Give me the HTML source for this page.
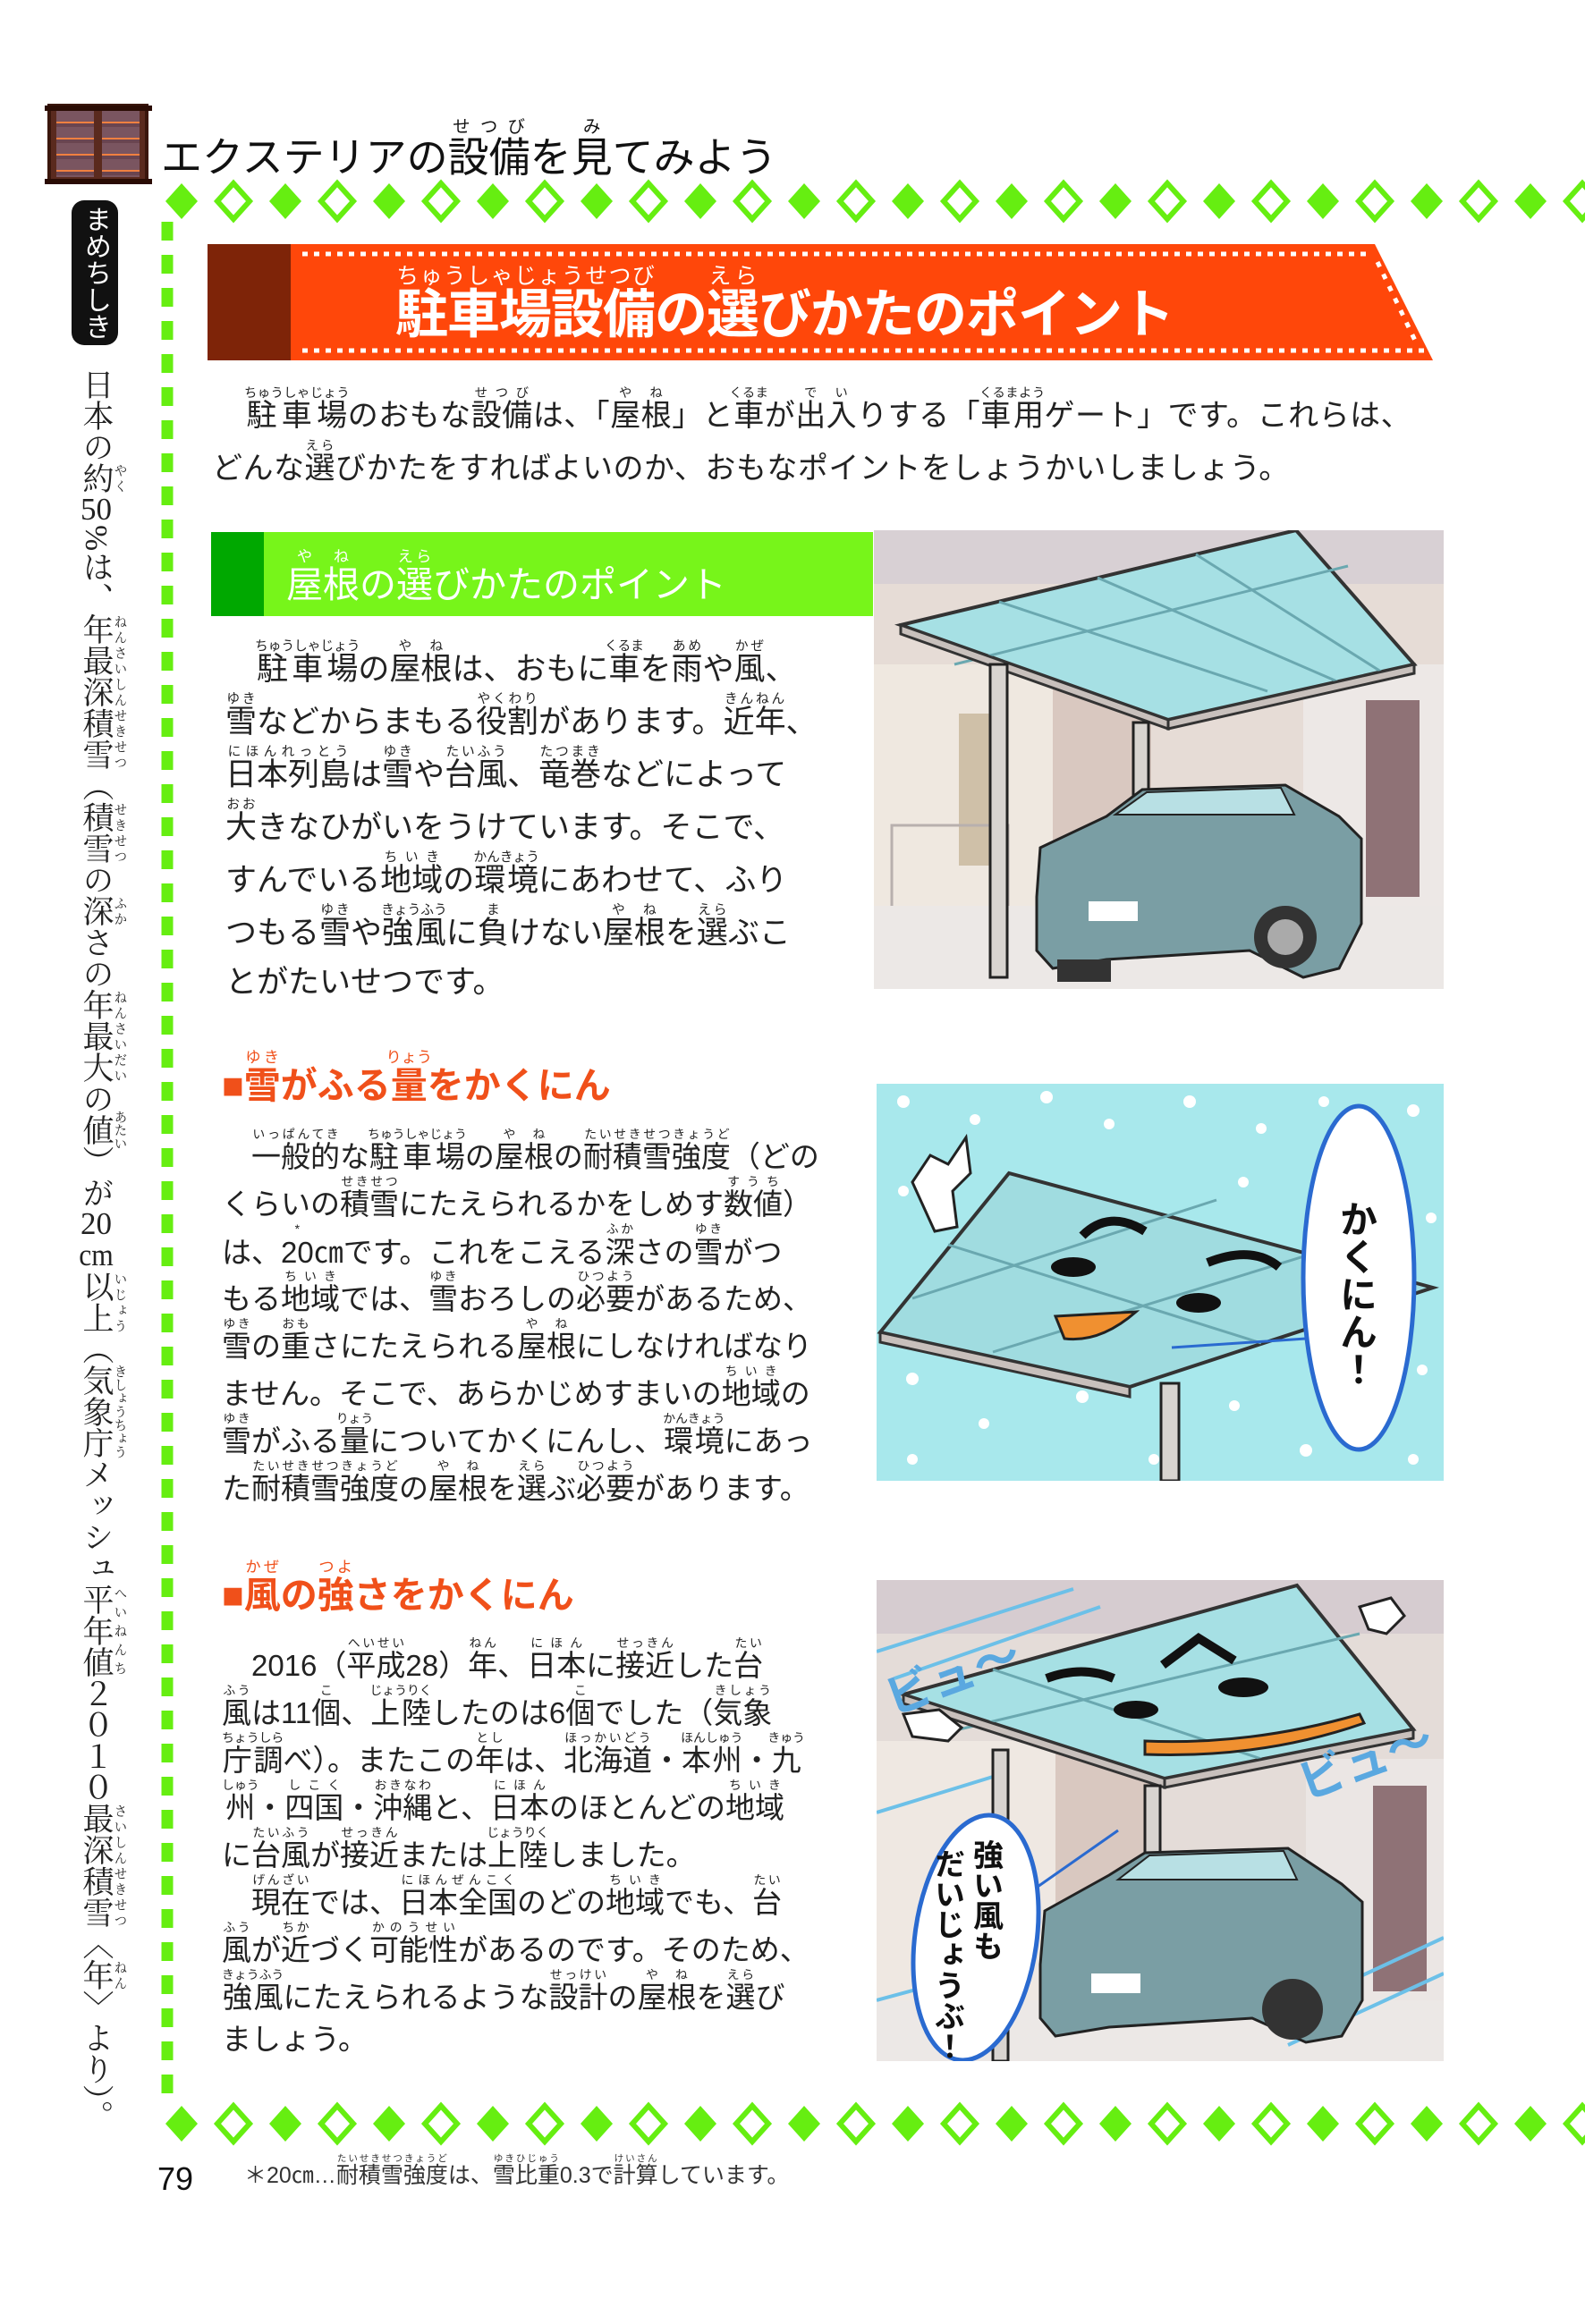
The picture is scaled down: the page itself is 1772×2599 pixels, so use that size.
<!DOCTYPE html>
<html><head><meta charset="utf-8">
<style>
*{margin:0;padding:0;box-sizing:border-box}
body{width:1772px;height:2599px;background:#fff;position:relative;overflow:hidden;font-family:"Liberation Sans","Noto Sans CJK JP",sans-serif;color:#222}
.a{position:absolute;white-space:nowrap}
rt{font-size:0.42em;font-weight:normal}
ruby{ruby-position:over}
.p{font-size:34px;letter-spacing:0.5px}
.h{color:#f0501a;font-size:41px;font-weight:bold}
.l1{position:absolute;left:252px;font-size:35px;line-height:60px;white-space:nowrap}
.l2{position:absolute;left:248px;font-size:33px;line-height:56px;white-space:nowrap}
</style></head><body>

<!-- header icon -->
<div class="a" style="left:53px;top:116px;width:113px;height:90px;background:#5a2a1e;border:4px solid #3a160c"></div>
<div class="a" style="left:63px;top:124px;width:42px;height:74px;background:repeating-linear-gradient(#7a5560 0 12px,#f08040 12px 14px,#6a4550 14px 18px)"></div>
<div class="a" style="left:114px;top:124px;width:42px;height:74px;background:repeating-linear-gradient(#7a5560 0 12px,#f08040 12px 14px,#6a4550 14px 18px)"></div>
<div class="a" style="left:50px;top:118px;width:120px;height:6px;background:#2a0c04"></div>
<div class="a" style="left:50px;top:200px;width:120px;height:6px;background:#2a0c04"></div>

<div class="a" style="left:180px;top:132px;font-size:46px;line-height:70px;color:#111">エクステリアの<ruby>設備<rt>せつび</rt></ruby>を<ruby>見<rt>み</rt></ruby>てみよう</div>

<!-- diamonds -->
<svg class="a" style="left:0;top:0" width="1772" height="2599">
<defs>
<g id="df"><polygon points="0,-20 18,0 0,20 -18,0" fill="#66ee11"/></g>
<g id="do"><polygon points="0,-20 18,0 0,20 -18,0" fill="#fff" stroke="#66ee11" stroke-width="6"/></g>
<g id="row">
<use href="#df" x="203"/><use href="#do" x="261"/><use href="#df" x="319"/><use href="#do" x="377"/><use href="#df" x="435"/><use href="#do" x="493"/><use href="#df" x="551"/><use href="#do" x="609"/><use href="#df" x="667"/><use href="#do" x="725"/><use href="#df" x="783"/><use href="#do" x="841"/><use href="#df" x="899"/><use href="#do" x="957"/><use href="#df" x="1015"/><use href="#do" x="1073"/><use href="#df" x="1131"/><use href="#do" x="1189"/><use href="#df" x="1247"/><use href="#do" x="1305"/><use href="#df" x="1363"/><use href="#do" x="1421"/><use href="#df" x="1479"/><use href="#do" x="1537"/><use href="#df" x="1595"/><use href="#do" x="1653"/><use href="#df" x="1711"/><use href="#do" x="1769"/>
</g>
</defs>
<use href="#row" y="225"/>
<use href="#row" y="2375"/>
<line x1="187" y1="248" x2="187" y2="2352" stroke="#66ee11" stroke-width="13" stroke-dasharray="21 16"/>
</svg>

<!-- side column -->
<div class="a" style="left:80px;top:224px;width:52px;height:162px;background:#111;border-radius:14px"></div>
<div class="a" style="left:80px;top:230px;width:52px;writing-mode:vertical-rl;font-size:30px;color:#fff;line-height:52px;text-align:center">まめちしき</div>
<div class="a" style="left:84px;top:412px;writing-mode:vertical-rl;font-size:35px;line-height:46px;color:#222;font-family:'Liberation Serif','Noto Serif CJK SC',serif">日本の<ruby>約<rt>やく</rt></ruby><span style="text-combine-upright:all">50</span>%は、<ruby>年最深積雪<rt>ねんさいしんせきせつ</rt></ruby>（<ruby>積雪<rt>せきせつ</rt></ruby>の<ruby>深<rt>ふか</rt></ruby>さの<ruby>年最大<rt>ねんさいだい</rt></ruby>の<ruby>値<rt>あたい</rt></ruby>）が<span style="text-combine-upright:all">20</span><span style="text-combine-upright:all">cm</span><ruby>以上<rt>いじょう</rt></ruby>（<ruby>気象庁<rt>きしょうちょう</rt></ruby>メッシュ<ruby>平年値<rt>へいねんち</rt></ruby>２０１０<ruby>最深積雪<rt>さいしんせきせつ</rt></ruby>〈<ruby>年<rt>ねん</rt></ruby>〉より）。</div>

<!-- orange banner -->
<svg class="a" style="left:232px;top:273px" width="1372" height="132">
<polygon points="0,0 1305,0 1370,130 0,130" fill="#ff470a"/>
<rect x="0" y="0" width="93" height="130" fill="#7e2408"/>
<line x1="106" y1="11" x2="1300" y2="11" stroke="#fff" stroke-width="5" stroke-dasharray="6 7"/>
<line x1="106" y1="119" x2="1360" y2="119" stroke="#fff" stroke-width="5" stroke-dasharray="6 7"/>
<line x1="1308" y1="20" x2="1352" y2="112" stroke="#fff" stroke-width="5" stroke-dasharray="6 9"/>
</svg>
<div class="a" style="left:442px;top:296px;font-size:59px;line-height:92px;font-weight:bold;color:#fff;letter-spacing:-1px"><ruby>駐車場設備<rt>ちゅうしゃじょうせつび</rt></ruby>の<ruby>選<rt>えら</rt></ruby>びかたのポイント</div>

<!-- intro -->
<div class="a p" style="left:273px;top:432px;line-height:60px"><ruby>駐車場<rt>ちゅうしゃじょう</rt></ruby>のおもな<ruby>設備<rt>せつび</rt></ruby>は、「<ruby>屋根<rt>やね</rt></ruby>」と<ruby>車<rt>くるま</rt></ruby>が<ruby>出入<rt>でい</rt></ruby>りする「<ruby>車用<rt>くるまよう</rt></ruby>ゲート」です。これらは、</div>
<div class="a p" style="left:237px;top:491px;line-height:60px">どんな<ruby>選<rt>えら</rt></ruby>びかたをすればよいのか、おもなポイントをしょうかいしましょう。</div>

<!-- green header -->
<div class="a" style="left:236px;top:595px;width:740px;height:94px;background:#77f51a"></div>
<div class="a" style="left:236px;top:595px;width:59px;height:94px;background:#00a800"></div>
<div class="a" style="left:320px;top:612px;font-size:41px;line-height:70px;color:#fff"><ruby>屋根<rt>やね</rt></ruby>の<ruby>選<rt>えら</rt></ruby>びかたのポイント</div>

<!-- paragraph 1 -->
<div class="l1" style="top:715px">　<ruby>駐車場<rt>ちゅうしゃじょう</rt></ruby>の<ruby>屋根<rt>やね</rt></ruby>は、おもに<ruby>車<rt>くるま</rt></ruby>を<ruby>雨<rt>あめ</rt></ruby>や<ruby>風<rt>かぜ</rt></ruby>、</div>
<div class="l1" style="top:774px"><ruby>雪<rt>ゆき</rt></ruby>などからまもる<ruby>役割<rt>やくわり</rt></ruby>があります。<ruby>近年<rt>きんねん</rt></ruby>、</div>
<div class="l1" style="top:833px"><ruby>日本列島<rt>にほんれっとう</rt></ruby>は<ruby>雪<rt>ゆき</rt></ruby>や<ruby>台風<rt>たいふう</rt></ruby>、<ruby>竜巻<rt>たつまき</rt></ruby>などによって</div>
<div class="l1" style="top:892px"><ruby>大<rt>おお</rt></ruby>きなひがいをうけています。そこで、</div>
<div class="l1" style="top:951px">すんでいる<ruby>地域<rt>ちいき</rt></ruby>の<ruby>環境<rt>かんきょう</rt></ruby>にあわせて、ふり</div>
<div class="l1" style="top:1010px">つもる<ruby>雪<rt>ゆき</rt></ruby>や<ruby>強風<rt>きょうふう</rt></ruby>に<ruby>負<rt>ま</rt></ruby>けない<ruby>屋根<rt>やね</rt></ruby>を<ruby>選<rt>えら</rt></ruby>ぶこ</div>
<div class="l1" style="top:1069px">とがたいせつです。</div>

<!-- heading 2 -->
<div class="a h" style="left:248px;top:1172px;line-height:70px">■<ruby>雪<rt>ゆき</rt></ruby>がふる<ruby>量<rt>りょう</rt></ruby>をかくにん</div>
<div class="l2" style="top:1260px">　<ruby>一般的<rt>いっぱんてき</rt></ruby>な<ruby>駐車場<rt>ちゅうしゃじょう</rt></ruby>の<ruby>屋根<rt>やね</rt></ruby>の<ruby>耐積雪強度<rt>たいせきせつきょうど</rt></ruby>（どの</div>
<div class="l2" style="top:1313px">くらいの<ruby>積雪<rt>せきせつ</rt></ruby>にたえられるかをしめす<ruby>数値<rt>すうち</rt></ruby>）</div>
<div class="l2" style="top:1366px">は、<ruby>20<rt>*</rt></ruby>㎝です。これをこえる<ruby>深<rt>ふか</rt></ruby>さの<ruby>雪<rt>ゆき</rt></ruby>がつ</div>
<div class="l2" style="top:1419px">もる<ruby>地域<rt>ちいき</rt></ruby>では、<ruby>雪<rt>ゆき</rt></ruby>おろしの<ruby>必要<rt>ひつよう</rt></ruby>があるため、</div>
<div class="l2" style="top:1472px"><ruby>雪<rt>ゆき</rt></ruby>の<ruby>重<rt>おも</rt></ruby>さにたえられる<ruby>屋根<rt>やね</rt></ruby>にしなければなり</div>
<div class="l2" style="top:1525px">ません。そこで、あらかじめすまいの<ruby>地域<rt>ちいき</rt></ruby>の</div>
<div class="l2" style="top:1578px"><ruby>雪<rt>ゆき</rt></ruby>がふる<ruby>量<rt>りょう</rt></ruby>についてかくにんし、<ruby>環境<rt>かんきょう</rt></ruby>にあっ</div>
<div class="l2" style="top:1631px">た<ruby>耐積雪強度<rt>たいせきせつきょうど</rt></ruby>の<ruby>屋根<rt>やね</rt></ruby>を<ruby>選<rt>えら</rt></ruby>ぶ<ruby>必要<rt>ひつよう</rt></ruby>があります。</div>

<!-- heading 3 -->
<div class="a h" style="left:248px;top:1742px;line-height:70px">■<ruby>風<rt>かぜ</rt></ruby>の<ruby>強<rt>つよ</rt></ruby>さをかくにん</div>
<div class="l2" style="top:1829px">　2016（<ruby>平成<rt>へいせい</rt></ruby>28）<ruby>年<rt>ねん</rt></ruby>、<ruby>日本<rt>にほん</rt></ruby>に<ruby>接近<rt>せっきん</rt></ruby>した<ruby>台<rt>たい</rt></ruby></div>
<div class="l2" style="top:1882px"><ruby>風<rt>ふう</rt></ruby>は11<ruby>個<rt>こ</rt></ruby>、<ruby>上陸<rt>じょうりく</rt></ruby>したのは6<ruby>個<rt>こ</rt></ruby>でした（<ruby>気象<rt>きしょう</rt></ruby></div>
<div class="l2" style="top:1935px"><ruby>庁調<rt>ちょうしら</rt></ruby>べ）。またこの<ruby>年<rt>とし</rt></ruby>は、<ruby>北海道<rt>ほっかいどう</rt></ruby>・<ruby>本州<rt>ほんしゅう</rt></ruby>・<ruby>九<rt>きゅう</rt></ruby></div>
<div class="l2" style="top:1988px"><ruby>州<rt>しゅう</rt></ruby>・<ruby>四国<rt>しこく</rt></ruby>・<ruby>沖縄<rt>おきなわ</rt></ruby>と、<ruby>日本<rt>にほん</rt></ruby>のほとんどの<ruby>地域<rt>ちいき</rt></ruby></div>
<div class="l2" style="top:2041px">に<ruby>台風<rt>たいふう</rt></ruby>が<ruby>接近<rt>せっきん</rt></ruby>または<ruby>上陸<rt>じょうりく</rt></ruby>しました。</div>
<div class="l2" style="top:2094px">　<ruby>現在<rt>げんざい</rt></ruby>では、<ruby>日本全国<rt>にほんぜんこく</rt></ruby>のどの<ruby>地域<rt>ちいき</rt></ruby>でも、<ruby>台<rt>たい</rt></ruby></div>
<div class="l2" style="top:2147px"><ruby>風<rt>ふう</rt></ruby>が<ruby>近<rt>ちか</rt></ruby>づく<ruby>可能性<rt>かのうせい</rt></ruby>があるのです。そのため、</div>
<div class="l2" style="top:2200px"><ruby>強風<rt>きょうふう</rt></ruby>にたえられるような<ruby>設計<rt>せっけい</rt></ruby>の<ruby>屋根<rt>やね</rt></ruby>を<ruby>選<rt>えら</rt></ruby>び</div>
<div class="l2" style="top:2253px">ましょう。</div>

<!-- footer -->
<div class="a" style="left:176px;top:2415px;font-size:36px;line-height:44px;color:#111">79</div>
<div class="a" style="left:273px;top:2408px;font-size:25px;line-height:50px;color:#333">＊20㎝…<ruby>耐積雪強度<rt>たいせきせつきょうど</rt></ruby>は、<ruby>雪比重<rt>ゆきひじゅう</rt></ruby>0.3で<ruby>計算<rt>けいさん</rt></ruby>しています。</div>

<!-- image 1 -->
<svg class="a" style="left:977px;top:593px" width="637" height="513" viewBox="0 0 637 513">
<rect width="637" height="513" fill="#e6dcd6"/>
<rect x="0" y="0" width="637" height="60" fill="#d8d0d4"/>
<rect x="0" y="150" width="200" height="300" fill="#efe8e0"/>
<rect x="95" y="205" width="40" height="170" fill="#cfc0a8"/>
<rect x="200" y="150" width="110" height="300" fill="#d9c8c0"/>
<rect x="480" y="150" width="157" height="300" fill="#ede8e6"/>
<rect x="550" y="190" width="60" height="220" fill="#8f7276"/>
<rect x="20" y="330" width="130" height="100" fill="none" stroke="#b8b0ae" stroke-width="3"/>
<rect x="0" y="420" width="637" height="93" fill="#ece8e6"/>
<polygon points="30,106 472,0 604,150 329,212" fill="#a6e0e4" stroke="#333" stroke-width="4"/>
<g stroke="#6aa8b0" stroke-width="3"><line x1="140" y1="80" x2="440" y2="180"/><line x1="250" y1="53" x2="520" y2="170"/><line x1="360" y1="27" x2="570" y2="160"/><line x1="90" y1="150" x2="530" y2="40"/></g>
<polygon points="30,106 329,212 329,222 30,116" fill="#c8c0bc" stroke="#333" stroke-width="3"/>
<polygon points="329,212 604,150 604,160 329,222" fill="#c8c0bc" stroke="#333" stroke-width="3"/>
<rect x="130" y="150" width="19" height="350" fill="#d8d4d0" stroke="#222" stroke-width="3"/>
<rect x="290" y="215" width="17" height="95" fill="#d8d4d0" stroke="#222" stroke-width="3"/>
<path d="M182,410 L186,355 L260,320 L300,290 L460,285 L520,320 L545,345 L545,440 L520,490 L480,500 L420,470 L260,480 L200,490 L182,470 Z" fill="#7a9ea4" stroke="#222" stroke-width="3"/>
<path d="M270,318 L305,293 L455,288 L470,318 Z" fill="#b8e0e4" stroke="#222" stroke-width="2"/>
<rect x="240" y="415" width="55" height="22" fill="#fff"/>
<circle cx="460" cy="455" r="35" fill="#333"/><circle cx="460" cy="455" r="20" fill="#aaa"/>
<rect x="205" y="480" width="60" height="25" fill="#333"/>
</svg>

<!-- image 2 -->
<svg class="a" style="left:980px;top:1212px" width="634" height="444" viewBox="0 0 634 444">
<rect width="634" height="444" fill="#a8e8ec"/>
<g fill="#fff"><circle cx="30" cy="20" r="7"/><circle cx="110" cy="40" r="6"/><circle cx="190" cy="15" r="7"/><circle cx="260" cy="45" r="6"/><circle cx="350" cy="20" r="7"/><circle cx="430" cy="50" r="6"/><circle cx="500" cy="20" r="6"/><circle cx="600" cy="30" r="7"/><circle cx="30" cy="120" r="6"/><circle cx="410" cy="110" r="6"/><circle cx="620" cy="150" r="6"/><circle cx="40" cy="330" r="7"/><circle cx="120" cy="380" r="6"/><circle cx="230" cy="350" r="7"/><circle cx="400" cy="360" r="6"/><circle cx="480" cy="410" r="7"/><circle cx="610" cy="320" r="6"/><circle cx="40" cy="420" r="6"/><circle cx="310" cy="420" r="6"/><circle cx="600" cy="420" r="6"/></g>
<polygon points="4,278 148,100 622,228 283,339" fill="#a0dce0" stroke="#333" stroke-width="4"/>
<g stroke="#6aa8b0" stroke-width="3"><line x1="80" y1="180" x2="430" y2="290"/><line x1="40" y1="240" x2="380" y2="130"/><line x1="130" y1="300" x2="520" y2="180"/></g>
<polygon points="4,278 283,339 283,350 4,289" fill="#c8c0bc" stroke="#333" stroke-width="3"/>
<rect x="318" y="335" width="20" height="109" fill="#d8d4d0" stroke="#222" stroke-width="3"/>
<path d="M230,170 Q260,140 300,165" stroke="#111" stroke-width="10" fill="none"/>
<path d="M370,200 Q420,180 450,205" stroke="#111" stroke-width="10" fill="none"/>
<ellipse cx="220" cy="205" rx="25" ry="11" fill="#111"/><ellipse cx="360" cy="245" rx="25" ry="11" fill="#111"/>
<path d="M200,260 L290,255 Q250,290 210,285 Z" fill="#f09030" stroke="#222" stroke-width="3"/>
<path d="M40,110 L60,80 L80,90 L100,60 L105,100 L85,120 L90,160 L65,165 Z" fill="#fff" stroke="#222" stroke-width="3"/>
<ellipse cx="539" cy="217" rx="62" ry="192" fill="#fff" stroke="#2a6ad0" stroke-width="5"/>
<line x1="330" y1="295" x2="480" y2="285" stroke="#2a6ad0" stroke-width="3"/>
<text x="539" y="130" font-size="42" font-weight="bold" fill="#111" style="writing-mode:vertical-rl;font-family:'Noto Sans CJK JP',sans-serif">かくにん！</text>
</svg>

<!-- image 3 -->
<svg class="a" style="left:980px;top:1767px" width="634" height="538" viewBox="0 0 634 538">
<rect width="634" height="538" fill="#e4dcd8"/>
<rect x="0" y="0" width="634" height="60" fill="#d6ccd0"/>
<rect x="0" y="180" width="200" height="320" fill="#efe8e2"/>
<rect x="200" y="180" width="110" height="320" fill="#d9c8c0"/>
<rect x="480" y="200" width="154" height="300" fill="#ebe6e4"/>
<rect x="555" y="230" width="60" height="230" fill="#8f7276"/>
<rect x="0" y="470" width="634" height="68" fill="#ece8e6"/>
<g stroke="#6cc0e8" stroke-width="4" fill="none"><line x1="0" y1="80" x2="220" y2="10"/><line x1="20" y1="110" x2="250" y2="30"/><line x1="0" y1="260" x2="130" y2="220"/><line x1="0" y1="470" x2="110" y2="440"/><line x1="440" y1="490" x2="634" y2="400"/><line x1="460" y1="520" x2="634" y2="440"/></g>
<polygon points="30,128 470,6 600,167 322,222" fill="#a6e0e4" stroke="#333" stroke-width="4"/>
<g stroke="#6aa8b0" stroke-width="3"><line x1="130" y1="100" x2="430" y2="200"/><line x1="80" y1="170" x2="540" y2="60"/></g>
<polygon points="30,128 322,222 322,232 30,138" fill="#c8c0bc" stroke="#333" stroke-width="3"/>
<polygon points="322,222 600,167 600,177 322,232" fill="#c8c0bc" stroke="#333" stroke-width="3"/>
<path d="M190,110 Q230,95 265,110" stroke="#111" stroke-width="10" fill="none"/>
<path d="M320,95 L360,65 L400,90" stroke="#111" stroke-width="10" fill="none"/>
<ellipse cx="290" cy="145" rx="25" ry="10" fill="#111"/><ellipse cx="410" cy="120" rx="28" ry="11" fill="#111"/>
<path d="M300,180 Q420,185 540,150 L545,160 Q430,200 300,195 Z" fill="#f09030" stroke="#222" stroke-width="3"/>
<path d="M30,150 L70,145 L95,165 L80,180 L40,175 Z" fill="#fff" stroke="#222" stroke-width="3"/>
<path d="M540,30 L575,20 L590,40 L570,60 L550,55 Z" fill="#fff" stroke="#222" stroke-width="3"/>
<rect x="130" y="190" width="17" height="348" fill="#d8d4d0" stroke="#222" stroke-width="3"/>
<rect x="300" y="230" width="17" height="80" fill="#d8d4d0" stroke="#222" stroke-width="3"/>
<path d="M183,430 L188,370 L260,330 L300,305 L460,300 L520,340 L543,360 L543,470 L520,510 L480,517 L420,490 L260,500 L200,510 L183,490 Z" fill="#7a9ea4" stroke="#222" stroke-width="3"/>
<path d="M270,335 L305,308 L455,303 L470,335 Z" fill="#b8e0e4" stroke="#222" stroke-width="2"/>
<rect x="240" y="440" width="55" height="22" fill="#fff"/>
<circle cx="465" cy="480" r="34" fill="#333"/>
<text x="10" y="135" font-size="52" font-weight="bold" fill="#5aa8e0" transform="rotate(-20 60 120)" style="font-family:'Noto Sans CJK JP',sans-serif">ビュ〜</text>
<text x="470" y="230" font-size="52" font-weight="bold" fill="#5aa8e0" transform="rotate(-20 520 210)" style="font-family:'Noto Sans CJK JP',sans-serif">ビュ〜</text>
<line x1="170" y1="350" x2="270" y2="280" stroke="#2a6ad0" stroke-width="3"/>
<ellipse cx="111" cy="400" rx="68" ry="138" fill="#fff" stroke="#2a6ad0" stroke-width="5" transform="rotate(8 111 400)"/>
<text x="125" y="290" font-size="34" font-weight="bold" fill="#111" style="writing-mode:vertical-rl;font-family:'Noto Sans CJK JP',sans-serif">強い風も</text>
<text x="82" y="300" font-size="34" font-weight="bold" fill="#111" style="writing-mode:vertical-rl;font-family:'Noto Sans CJK JP',sans-serif">だいじょうぶ！</text>
</svg>

</body></html>
